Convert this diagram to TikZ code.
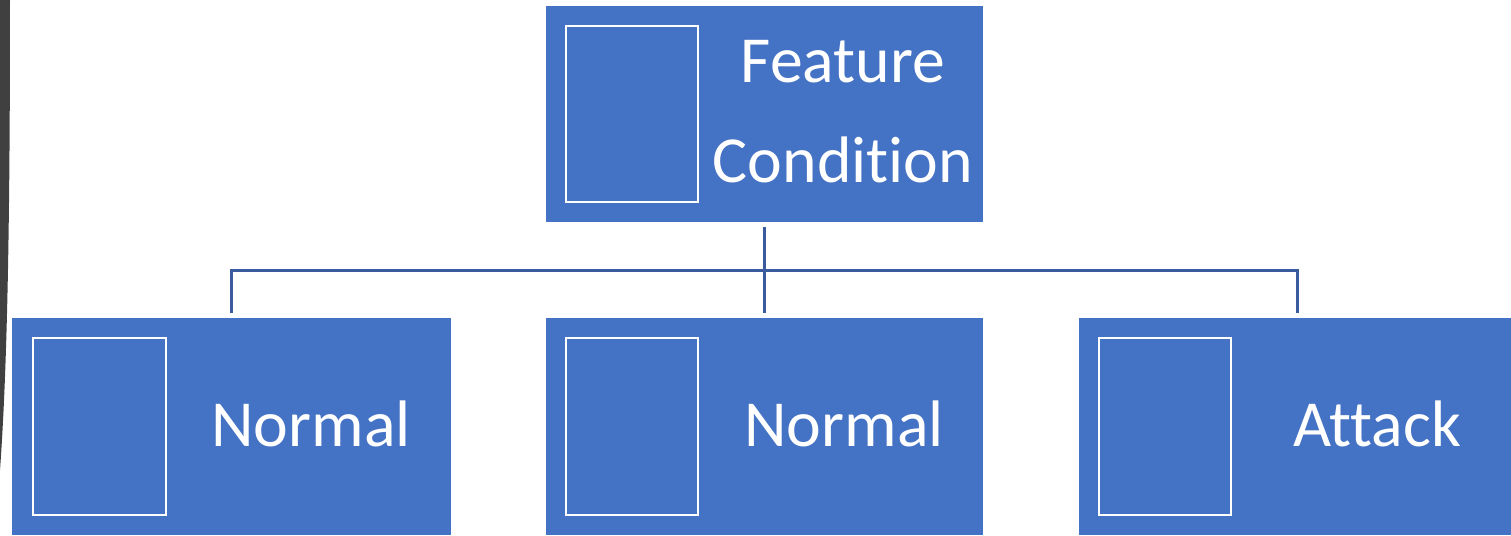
\documentclass[tikz,border=0pt]{standalone}
\usepackage{fontspec}
\setmainfont{Carlito}[Ligatures={NoCommon,NoRare,NoContextual}]
\definecolor{boxblue}{HTML}{4472C4}
\definecolor{linkblue}{HTML}{3A5C9E}
\definecolor{darkband}{HTML}{404040}
\begin{document}
\begin{tikzpicture}[x=0.01cm,y=-0.01cm,
  card/.style={rectangle,fill=boxblue,draw=none,inner sep=0pt},
  pic/.style={rectangle,draw=white,line width=0.6pt,fill=boxblue,inner sep=0pt,minimum width=1.32cm,minimum height=1.76cm},
  lbl/.style={text=white,inner sep=0pt,align=center,font=\fontsize{18.7}{28.45}\selectfont},
  conn/.style={draw=linkblue,line width=0.85pt}]
\useasboundingbox (0,0) rectangle (1511,535);
% dark band at left edge
\fill[darkband] (0,0) -- (10,0) .. controls (10,200) and (8,360) .. (0,470) -- cycle;
% top card
\node[card,minimum width=4.37cm,minimum height=2.16cm] (top) at (764.5,114) {};
\node[pic] (topimg) at (632,114) {};
\node[lbl] (toptxt) at (843,112) {Feature\\Condition};
% bottom cards
\node[card,minimum width=4.39cm,minimum height=2.17cm] (b1) at (231.5,426.5) {};
\node[pic,minimum width=1.33cm,minimum height=1.77cm] (b1img) at (99.5,426.5) {};
\node[lbl,anchor=base] (b1txt) at (311,446) {Normal};
\node[card,minimum width=4.37cm,minimum height=2.17cm] (b2) at (764.5,426.5) {};
\node[pic,minimum width=1.32cm,minimum height=1.77cm] (b2img) at (632,426.5) {};
\node[lbl,anchor=base] (b2txt) at (844,446) {Normal};
\node[card,minimum width=4.32cm,minimum height=2.17cm] (b3) at (1295,426.5) {};
\node[pic,minimum width=1.32cm,minimum height=1.77cm] (b3img) at (1165,426.5) {};
\node[lbl,anchor=base] (b3txt) at (1377,446) {Attack};
% connectors
\coordinate (bus) at (764,270);
\draw[conn] ([yshift=-0.04cm]top.south) -- ([yshift=0.04cm]b2.north);
\draw[conn] ([yshift=0.04cm]b1.north) |- (bus) -| ([xshift=0.02cm,yshift=0.04cm]b3.north);
\end{tikzpicture}
\end{document}
